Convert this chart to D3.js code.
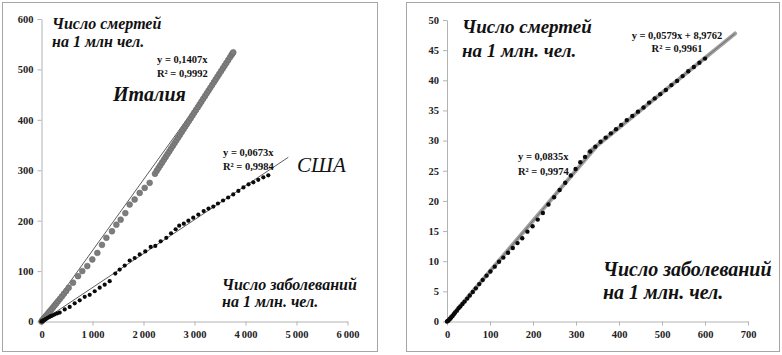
<!DOCTYPE html>
<html>
<head>
<meta charset="utf-8">
<script src="https://cdn.jsdelivr.net/npm/d3@7"></script>
<style>
  body { margin: 0; background: #fff; }
  svg { display: block; }
  .axis path, .axis line { stroke: #b3b3b3; }
</style>
</head>
<body>
<svg id="chart" width="782" height="355"></svg>
<script>
const SERIF = 'Liberation Serif, Times New Roman, DejaVu Serif, serif';

// ---- left chart: Italy vs USA ----
let italyX = [0,8,16,25,35,47,60,75,92,110,130,152,176,202,230,260,292,326,362,400,440,485,533,618,716,800,898,996,1095,1186,1272,1382,1468,1552,1644,1729,1827,1925,2023,2121,2225,2260,2295,2330,2365,2400,2435,2470,2505,2540,2575,2610,2645,2680,2715,2750,2785,2820,2855,2890,2925,2960,2995,3030,3065,3100,3135,3170,3205,3240,3275,3310,3345,3380,3415,3450,3485,3520,3555,3590,3625,3660,3695,3725,3745,3760];
let italyY = [0,1,2,3,4.3,5.8,7.4,9.3,11.4,13.6,16.1,18.8,21.8,25,28.5,32.3,36.2,40.5,45,49.8,55,60.5,67,77,90,100,110,123,136,152,166,179,192,202,215,232,242,255,265,275,293,299,304.5,310,315.5,321,326.4,332,337.4,343,348.4,354,359.3,365,370.3,375.8,381.3,386.8,392.2,397.7,403.2,408.7,414.2,419.7,425.1,430.6,436.1,441.6,447,452.6,458,463.5,469,474.5,480,485.5,491,496.4,501.9,507.4,512.9,518.4,523.9,528.6,531.7,534];
let usaX = [0,8,18,30,45,62,80,100,125,155,185,220,260,305,357,455,553,651,749,847,945,1043,1141,1239,1337,1447,1533,1631,1729,1827,1925,2035,2141,2231,2337,2447,2540,2630,2700,2790,2880,2975,3075,3180,3275,3369,3460,3560,3660,3760,3860,3960,4060,4153,4250,4350,4447];
let usaY = [0,0.4,0.9,1.6,2.5,3.5,4.7,6,7.4,9,10.6,12.3,14.2,16,17.8,24,29,36,42,49,53,60,67,73,80,95,103,111,121,126,133,139,148,150,159,166,175,183,190,194,200,206,212,219,224,228,234,240,246,252,259,266,272,276,281,286,290];
let italyK = 0.1407, usaK = 0.0673;
let italyTrendEnd = 3780, usaTrendEnd = 4840;
let leftXTicks = [0,1000,2000,3000,4000,5000,6000];
let leftYTicks = [0,100,200,300,400,500,600];

// ---- right chart ----
let rightX = [0,2,4,6,8,10,13,16,19,23,27,31,36,41,47,53,60,67,75,83,92,101,111,121,131,142,153,164,175,187,199,211,223,236,249,262,275,288,299,310,321,333,345,357,369,381,393,405,418,431,444,457,470,483,496,509,522,535,548,561,574,587,600];
let rightY = [0,0.1,0.2,0.4,0.5,0.7,0.9,1.2,1.5,1.8,2.2,2.5,2.9,3.3,3.8,4.3,4.9,5.5,6.2,6.9,7.6,8.3,9.1,9.9,10.6,11.4,12.2,13,13.8,14.9,15.8,16.9,18,19.4,20.6,21.8,23,24.2,25.3,26.4,27.3,28.2,29,29.8,30.5,31.2,31.9,32.6,33.4,34.1,34.8,35.5,36.3,37,37.7,38.4,39.2,39.9,40.7,41.5,42.2,42.9,43.6];
let earlyK = 0.0835, earlyEnd = 345;
let lateK = 0.0579, lateB = 8.9762, lateStart = 330, lateEnd = 670;
let rightXTicks = [0,100,200,300,400,500,600,700];
let rightYTicks = [0,5,10,15,20,25,30,35,40,45,50];

let svg = d3.select('#chart');

// panel frames
svg.append('rect').attr('x',2.5).attr('y',2.5).attr('width',375).attr('height',349)
  .attr('fill','none').attr('stroke','#a6a6a6');
svg.append('rect').attr('x',406.5).attr('y',2.5).attr('width',373).attr('height',349)
  .attr('fill','none').attr('stroke','#a6a6a6');

function spaceThousands(d){
  return d >= 1000 ? d3.format(',')(d).replace(',', '\u2009') : d;
}

function drawAxes(g, x, y, xTicks, yTicks, xFmt){
  let xAxis = d3.axisBottom(x).tickValues(xTicks).tickSizeInner(4).tickSizeOuter(0).tickPadding(3).tickFormat(xFmt);
  let yAxis = d3.axisLeft(y).tickValues(yTicks).tickSizeInner(4).tickSizeOuter(0).tickPadding(4);
  let gx = g.append('g').attr('class','axis').attr('transform','translate(0,'+y(0)+')').call(xAxis);
  gx.selectAll('text').attr('dy','0.95em');
  let gy = g.append('g').attr('class','axis').attr('transform','translate('+x(0)+',0)').call(yAxis);
  [gx, gy].forEach(function(a){
    a.attr('font-family', SERIF).attr('font-size', 10.5).attr('font-weight','bold');
    a.selectAll('text').attr('fill','#222');
  });
}

function addText(parent, x, y, txt, size, opts){
  opts = opts || {};
  return parent.append('text').attr('x',x).attr('y',y)
    .attr('font-family', SERIF)
    .attr('font-size',size)
    .attr('font-weight', opts.weight || 'bold')
    .attr('font-style', opts.style || 'normal')
    .attr('text-anchor', opts.anchor || 'start')
    .attr('fill', opts.fill || '#111')
    .text(txt);
}

// ===== left chart =====
let lx = d3.scaleLinear().domain([0,6000]).range([41.5,347.5]);
let ly = d3.scaleLinear().domain([0,600]).range([321.5,19]);
let left = svg.append('g');
drawAxes(left, lx, ly, leftXTicks, leftYTicks, spaceThousands);

let line = d3.line();
// trend lines
left.append('path').attr('d', line([[lx(0),ly(0)],[lx(italyTrendEnd),ly(italyK*italyTrendEnd)]]))
  .attr('stroke','#333').attr('stroke-width',0.8).attr('fill','none');
left.append('path').attr('d', line([[lx(0),ly(0)],[lx(usaTrendEnd),ly(usaK*usaTrendEnd)]]))
  .attr('stroke','#333').attr('stroke-width',0.8).attr('fill','none');

left.selectAll('.italy').data(italyX).enter().append('circle')
  .attr('class','italy')
  .attr('cx', d => lx(d)).attr('cy', (d,i) => ly(italyY[i])).attr('r',2.9)
  .attr('fill','#7d7d7d').attr('stroke','#6a6a6a').attr('stroke-width',0.6);

left.selectAll('.usa').data(usaX).enter().append('circle')
  .attr('class','usa')
  .attr('cx', d => lx(d)).attr('cy', (d,i) => ly(usaY[i])).attr('r',2.1)
  .attr('fill','#0a0a0a');

addText(left, 52, 29, 'Число смертей', 16, {style:'italic'});
addText(left, 52, 47, 'на 1 млн чел.', 16, {style:'italic'});
addText(left, 157, 63, 'y = 0,1407x', 10.5);
addText(left, 157, 77, 'R² = 0,9992', 10.5);
addText(left, 113, 101, 'Италия', 20, {style:'italic'});
addText(left, 223, 156, 'y = 0,0673x', 10.5);
addText(left, 223, 170, 'R² = 0,9984', 10.5);
addText(left, 297, 172, 'США', 21, {style:'italic', weight:'normal'});
addText(left, 222, 290, 'Число заболеваний', 16, {style:'italic'});
addText(left, 222, 307, 'на 1 млн. чел.', 16, {style:'italic'});

// ===== right chart =====
let rx = d3.scaleLinear().domain([0,700]).range([447,748]);
let ry = d3.scaleLinear().domain([0,50]).range([321.5,20]);
let right = svg.append('g');
drawAxes(right, rx, ry, rightXTicks, rightYTicks, d => d);

addText(right, 462, 33, 'Число смертей', 19, {style:'italic'});
addText(right, 462, 57, 'на 1 млн. чел.', 19, {style:'italic'});
addText(right, 677, 39, 'y = 0,0579x + 8,9762', 10.5, {anchor:'middle'});
addText(right, 677, 52, 'R² = 0,9961', 10.5, {anchor:'middle'});
addText(right, 518, 160, 'y = 0,0835x', 10.5);
addText(right, 518, 175, 'R² = 0,9974', 10.5);
addText(right, 603, 276, 'Число заболеваний', 20, {style:'italic'});
addText(right, 603, 299, 'на 1 млн. чел.', 20, {style:'italic'});

let earlySeg = [[rx(0),ry(0)],[rx(earlyEnd),ry(earlyK*earlyEnd)]];
let lateSeg = [[rx(lateStart),ry(lateK*lateStart+lateB)],[rx(lateEnd),ry(lateK*lateEnd+lateB)]];
[earlySeg, lateSeg].forEach(function(seg){
  right.append('path').attr('d', line(seg)).attr('stroke','#a0a0a0').attr('stroke-width',4)
    .attr('fill','none').attr('stroke-linecap','round');
});
[earlySeg, lateSeg].forEach(function(seg){
  right.append('path').attr('d', line(seg)).attr('stroke','#6e6e6e').attr('stroke-width',1)
    .attr('fill','none');
});

right.selectAll('.dot').data(rightX).enter().append('circle')
  .attr('class','dot')
  .attr('cx', d => rx(d)).attr('cy', (d,i) => ry(rightY[i])).attr('r',2.2)
  .attr('fill','#0a0a0a');
</script>
</body>
</html>
